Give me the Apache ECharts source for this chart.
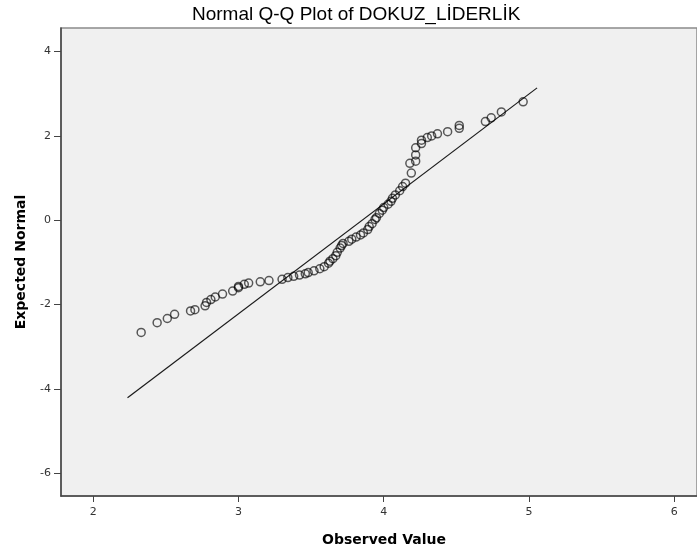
<!DOCTYPE html>
<html>
<head>
<meta charset="utf-8">
<script src="https://cdn.jsdelivr.net/npm/echarts@6/dist/echarts.min.js"></script>
<style>html,body{margin:0;padding:0;background:#fff}#c{width:697px;height:553px}</style>
</head>
<body>
<div id="c"></div>
<script>
// Observed values (x) and expected normal values (y)
const observed = [2.33,2.44,2.51,2.56,2.67,2.70,2.77,2.78,2.81,2.84,2.89,2.96,3.00,3.00,3.04,3.07,3.15,3.21,3.30,3.34,3.38,3.42,3.46,3.48,3.52,3.56,3.59,3.62,3.63,3.65,3.67,3.68,3.70,3.71,3.72,3.76,3.78,3.81,3.84,3.86,3.89,3.90,3.92,3.94,3.95,3.97,3.99,4.00,4.03,4.05,4.06,4.08,4.11,4.13,4.15,4.19,4.18,4.22,4.22,4.22,4.26,4.26,4.30,4.33,4.37,4.44,4.52,4.52,4.70,4.74,4.81,4.96];
const expected = [-2.66,-2.43,-2.33,-2.23,-2.15,-2.12,-2.03,-1.95,-1.88,-1.82,-1.75,-1.68,-1.60,-1.57,-1.52,-1.49,-1.46,-1.43,-1.40,-1.36,-1.33,-1.30,-1.27,-1.24,-1.20,-1.15,-1.10,-1.02,-0.97,-0.91,-0.84,-0.76,-0.66,-0.60,-0.55,-0.50,-0.45,-0.40,-0.35,-0.30,-0.22,-0.15,-0.08,0.02,0.06,0.16,0.24,0.30,0.38,0.45,0.52,0.60,0.70,0.80,0.88,1.12,1.35,1.40,1.55,1.72,1.82,1.90,1.96,2.00,2.05,2.10,2.18,2.25,2.34,2.43,2.57,2.81];
// Reference line end points
const lineX = [2.236, 5.056];
const lineY = [-4.21, 3.14];
const xTicks = [2,3,4,5,6];
const yTicks = [-6,-4,-2,0,2,4];

const pts = observed.map((v,i)=>[v, expected[i]]);
const linePts = lineX.map((v,i)=>[v, lineY[i]]);

const chart = echarts.init(document.getElementById('c'), null, {renderer:'canvas'});
const titleFont = '"Liberation Sans", Arial, sans-serif';
const labelFont = '"DejaVu Sans", sans-serif';
chart.setOption({
  animation:false,
  backgroundColor:'#ffffff',
  title:{
    text:'Normal Q-Q Plot of DOKUZ_LİDERLİK',
    left:187, top:0,
    textStyle:{fontFamily:titleFont, fontSize:19, fontWeight:'normal', color:'#000'}
  },
  grid:{
    left:61, top:28, right:-1, bottom:57,
    show:true, backgroundColor:'#f0f0f0', borderColor:'#8a8a8a', borderWidth:1.5
  },
  xAxis:{
    type:'value', min:1.778, max:6.157,
    name:'Observed Value', nameLocation:'middle', nameGap:37,
    nameTextStyle:{fontFamily:labelFont, fontSize:14, fontWeight:'bold', color:'#000', padding:[0,0,0,10]},
    axisLine:{show:true, onZero:false, lineStyle:{color:'#444', width:1.5}},
    axisTick:{show:true, customValues:xTicks, length:6, lineStyle:{color:'#444'}},
    axisLabel:{customValues:xTicks, fontFamily:labelFont, fontSize:11, color:'#333', margin:11},
    splitLine:{show:false}
  },
  yAxis:{
    type:'value', min:-6.54, max:4.56,
    name:'Expected Normal', nameLocation:'middle', nameGap:33,
    nameTextStyle:{fontFamily:labelFont, fontSize:14, fontWeight:'bold', color:'#000'},
    axisLine:{show:true, onZero:false, lineStyle:{color:'#444', width:1.5}},
    axisTick:{show:true, customValues:yTicks, length:7, lineStyle:{color:'#444'}},
    axisLabel:{customValues:yTicks, fontFamily:labelFont, fontSize:11, color:'#333', margin:10},
    splitLine:{show:false}
  },
  series:[
    {
      type:'line', data:linePts, showSymbol:false, symbol:'none',
      lineStyle:{color:'#1a1a1a', width:1.2}, z:2
    },
    {
      type:'scatter', data:pts, symbol:'circle', symbolSize:8,
      itemStyle:{color:'rgba(0,0,0,0)', borderColor:'rgba(0,0,0,0.8)', borderWidth:1.5},
      z:3
    }
  ]
});
</script>
</body>
</html>
